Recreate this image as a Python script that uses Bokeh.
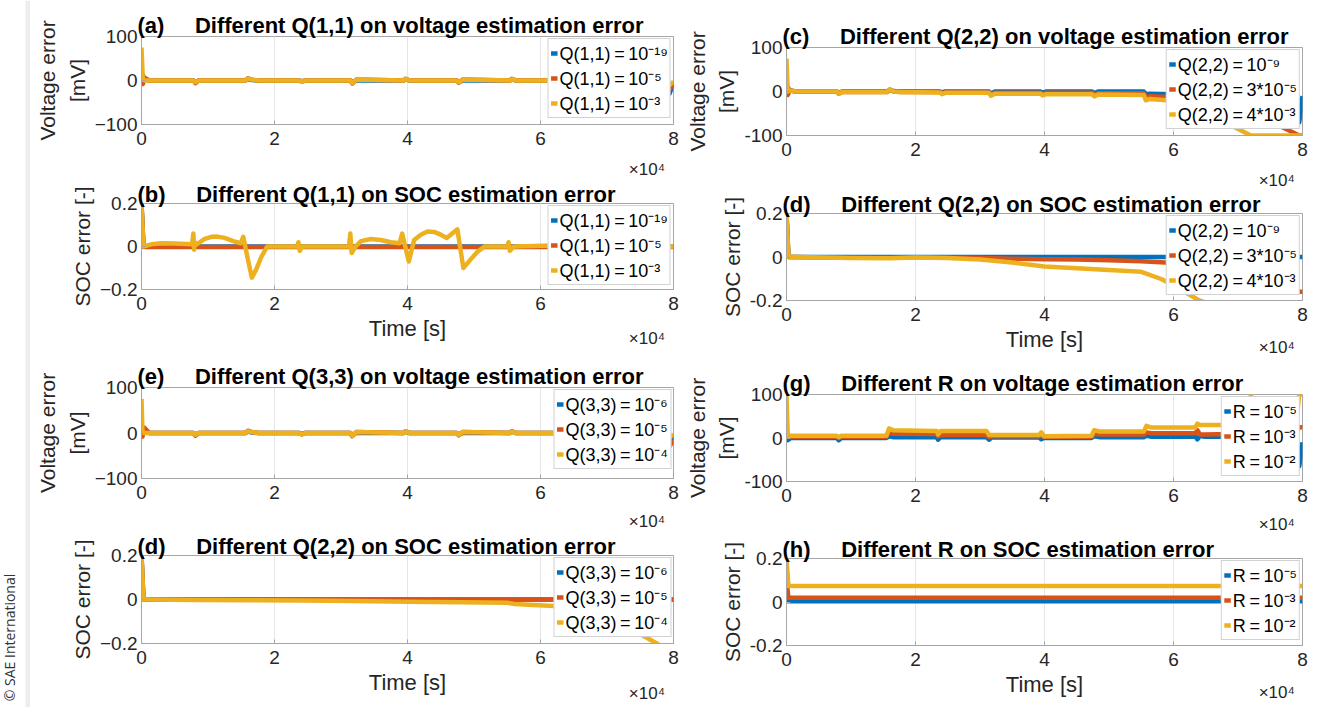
import math
from bokeh.plotting import figure
from bokeh.models import Range1d, FixedTicker, Legend, LegendItem, LinearAxis
from bokeh.layouts import row, column
from bokeh.embed import file_html
from bokeh.resources import INLINE
from bokeh.core.properties import value

# ---------------- data ----------------
x_ticks = [0, 20000, 40000, 60000, 80000]
x_tick_labels = ["0", "2", "4", "6", "8"]
x_scale_tick = [76000]
x_scale_label = ["\u00d710\u2074"]
volt_ticks = [-100, 0, 100]
volt_labels_left = ["\u2212100", "0", "100"]
volt_labels_right = ["-100", "0", "100"]
soc_ticks = [-0.2, 0, 0.2]
soc_labels_left = ["\u22120.2", "0", "0.2"]
soc_labels_right = ["-0.2", "0", "0.2"]

# (a) voltage error, different Q(1,1)
t_a = [0, 200, 500, 1200, 7800, 8100, 8600, 15600, 16000, 16600, 17600, 23800, 24100, 24600,
       31400, 31700, 32300, 39400, 39700, 40300, 47400, 47700, 48300, 55400, 55700, 56300,
       63400, 63700, 64300, 71400, 71700, 72300, 79000, 79400, 80000]
a_blue = [0, 12, 2, 0, 0, -3, 0, 0, 3, 1, 0, 0, -2, 0, 0, -4, 0, 0, 3, 0, 0, -3, 0, 0, 3, 0,
          0, 2, 0, 0, 2, 0, 0, -30, -5]
a_orange = [0, -8, 6, 0, 0, -6, 0, 0, 5, 2, 0, 0, -3, 0, 0, -7, 2, 0, 4, 0, 0, -5, 2, 0, 4, 0,
            0, 3, 0, 0, 2, 0, 0, -20, -8]
a_yellow = [75, 2, 0, 0, 0, -4, 0, 0, 4, 2, 0, 0, -3, 0, 0, -6, 2, 0, 4, 0, 0, -4, 2, 0, 3, 0,
            0, 2, 0, 0, 2, 0, 0, -10, -3]

# (b) SOC error, different Q(1,1)
t_b_flat = [0, 300, 80000]
b_blue = [0.2, 0.0, 0.0]
b_orange = [0.2, -0.002, -0.002]
t_b = [0, 300, 1500, 3000, 5000, 7600, 7800, 7900, 8000, 8300, 9500, 10500, 11400, 12500,
       13800, 14900, 15300, 16000, 16600, 17200, 18000, 18900, 23400, 23600, 23800, 24200,
       31200, 31400, 31600, 32200, 33000, 34500, 36000, 37500, 38800, 39200, 40200, 41000,
       42000, 43000, 44000, 45000, 45900, 47500, 48400, 49500, 50500, 51600, 55000, 55200,
       55400, 56000, 62000, 70000, 80000]
b_yellow = [0.19, 0.0, 0.01, 0.015, 0.014, 0.01, 0.06, -0.015, 0.02, 0.01, 0.035, 0.045,
            0.046, 0.04, 0.025, 0.015, 0.045, -0.06, -0.145, -0.11, -0.05, 0.0, 0.0, 0.02,
            -0.02, 0.0, 0.0, 0.06, -0.03, 0.0, 0.025, 0.035, 0.03, 0.02, 0.015, 0.06, -0.07,
            0.03, 0.055, 0.07, 0.068, 0.055, 0.04, 0.08, -0.1, -0.06, -0.025, 0.0, 0.0, 0.02,
            -0.02, 0.0, 0.005, 0.0, 0.0]

# (c) voltage error, different Q(2,2)
t_c = [0, 200, 500, 1500, 7800, 8100, 8600, 15600, 16000, 16600, 17600, 23800, 24100, 24600,
       31400, 31700, 32300, 39400, 39700, 40300, 47400, 47700, 48300, 55400, 55700, 56300,
       60000, 64000, 68000, 72000, 76000, 79500, 80000]
c_blue = [0, 10, 2, 0, 0, -4, 0, 0, 4, 1, 0, 0, -2, 0, 0, -5, 0, 0, -3, 0, 0, -4, 0, 0, -6, -5,
          -6, -10, -18, -28, -45, -70, -10]
c_orange = [0, -8, 3, 0, 0, -5, -1, -1, 4, 0, -1, -1, -4, -2, -2, -8, -3, -3, -6, -3, -3, -8,
            -4, -4, -14, -11, -13, -20, -32, -50, -75, -100, -100]
c_yellow = [75, 0, 2, 0, 0, -5, -1, -1, 5, 0, -1, -2, -6, -3, -3, -10, -5, -5, -9, -6, -6, -11,
            -7, -8, -20, -17, -21, -40, -70, -100, -100, -100, -100]

# (d) SOC error, different Q(2,2)
t_d = [0, 300, 1000, 10000, 16000, 20000, 25000, 30000, 35000, 40000, 45000, 50000, 55000,
       58000, 60000, 64000, 70000, 76000, 79500, 80000]
d_blue = [0.2, 0, 0, 0, 0, 0, 0, 0, 0, 0, 0, 0, 0, 0, 0, 0, 0, 0, 0, 0]
d_orange = [0.2, 0, 0, -0.003, -0.004, -0.002, -0.003, -0.005, -0.008, -0.01, -0.012, -0.015,
            -0.02, -0.024, -0.028, -0.05, -0.09, -0.13, -0.16, -0.16]
d_yellow = [0.2, 0, 0, -0.005, -0.006, -0.002, -0.005, -0.012, -0.025, -0.044, -0.052, -0.06,
            -0.068, -0.1, -0.13, -0.2, -0.26, -0.3, -0.32, -0.32]

# (e) voltage error, different Q(3,3)
t_e = [0, 150, 400, 1200, 7800, 8100, 8600, 15600, 16000, 16600, 17600, 23800, 24100, 24600,
       31400, 31700, 32300, 39400, 39700, 40300, 47400, 47700, 48300, 55400, 55700, 56300,
       63400, 63700, 64300, 71400, 71700, 72300, 79000, 79400, 80000]
e_blue = [0, 5, 1, 0, 0, -3, 0, 0, 3, 1, 0, 0, -2, 0, 0, -4, 0, 0, 3, 0, 0, -3, 0, 0, 3, 0,
          0, 2, 0, 0, 2, 0, 0, -20, -5]
e_orange = [0, -8, 12, 0, 0, -6, 0, 0, 5, 2, 0, 0, -3, 0, 0, -7, 2, 0, 4, 0, 0, -5, 2, 0, 4, 0,
            0, 3, 0, 0, 2, 0, 0, -30, -15]
e_yellow = [75, 2, 0, 0, 0, -4, 0, 0, 4, 2, 0, 0, -3, 0, 0, -6, 2, 0, 4, 0, 0, -4, 2, 0, 3, 0,
            0, 2, 0, 0, 2, 0, 0, -10, -3]

# (f) SOC error, different Q(3,3)
t_f = [0, 300, 1000, 8000, 16000, 24000, 32000, 40000, 48000, 55000, 56000, 62000, 66000,
       70000, 74000, 77500, 80000]
f_blue = [0.2, 0, 0, 0, 0, 0, 0, 0, 0, 0, 0, 0, 0, 0, 0, 0, 0]
f_orange = [0.2, 0, 0, 0, 0, 0, 0, 0, 0, 0, 0, 0, 0, 0, 0, 0, 0]
f_yellow = [0.2, 0, 0, -0.002, -0.003, -0.004, -0.007, -0.01, -0.013, -0.015, -0.02, -0.03,
            -0.06, -0.1, -0.14, -0.2, -0.25]

# (g) voltage error, different R
t_g = [0, 200, 700, 7800, 8100, 8500, 15500, 15900, 16500, 23300, 23500, 23900, 31000, 31400,
       31800, 39200, 39500, 39900, 47300, 47700, 48500, 55400, 55800, 56600, 63400, 63700,
       64100, 64800, 71000, 71500, 72000, 72500, 79000, 79500, 80000]
g_blue = [8, -5, 0, 0, -5, 0, 0, 4, 2, 2, -4, 2, 2, -4, 1, 1, -3, 0, 0, 4, 2, 2, 5, 3, 3, -3,
          5, 3, 3, 3, 3, 3, 3, -65, -10]
g_orange = [5, 3, 3, 3, 0, 3, 3, 13, 10, 9, 4, 7, 7, 2, 4, 4, 8, 3, 3, 10, 8, 8, 13, 11, 11,
            18, 8, 8, 10, 10, 10, 10, 12, 25, 25]
g_yellow = [100, 5, 5, 5, 2, 5, 5, 22, 18, 16, 8, 16, 16, 7, 7, 7, 13, 4, 5, 18, 15, 15, 28,
            24, 24, 33, 30, 30, 30, 30, 100, 32, 32, 100, 100]

# (h) SOC error, different R
t_h = [0, 300, 80000]
h_blue = [0.03, 0.003, 0.003]
h_orange = [0.1, 0.02, 0.02]
h_yellow = [0.2, 0.073, 0.073]

leg_q11 = ["Q(1,1)\u2009=\u200910\u207b\u00b9\u2079", "Q(1,1)\u2009=\u200910\u207b\u2075",
           "Q(1,1)\u2009=\u200910\u207b\u00b3"]
leg_q22 = ["Q(2,2)\u2009=\u200910\u207b\u2079", "Q(2,2)\u2009=\u20093*10\u207b\u2075",
           "Q(2,2)\u2009=\u20094*10\u207b\u00b3"]
leg_q33 = ["Q(3,3)\u2009=\u200910\u207b\u2076", "Q(3,3)\u2009=\u200910\u207b\u2075",
           "Q(3,3)\u2009=\u200910\u207b\u2074"]
leg_r = ["R\u2009=\u200910\u207b\u2075", "R\u2009=\u200910\u207b\u00b3", "R\u2009=\u200910\u207b\u00b2"]

# ---------------- styling ----------------
COLORS = ["#0072BD", "#D95319", "#EDB120"]
FONT = "Liberation Sans"
FRAME = "#a6a6a6"
TXT = "#262626"
NB = "\u00a0"


def panel(w, h, bl, br, bt, bb, tag, title, kind, side, series, labels, xlabel,
          title_standoff, scale_standoff):
    if kind == "v":
        ylo, yhi = -100, 100
        yt = volt_ticks
        yl = volt_labels_left if side == "L" else volt_labels_right
        ylab = "Voltage error\n[mV]"
    else:
        ylo, yhi = -0.2, 0.2
        yt = soc_ticks
        yl = soc_labels_left if side == "L" else soc_labels_right
        ylab = "SOC error [-]"
    p = figure(width=w, height=h, output_backend="svg", toolbar_location=None,
               x_range=Range1d(0, 80000), y_range=Range1d(ylo, yhi),
               min_border_left=bl, min_border_right=br, min_border_top=bt,
               min_border_bottom=bb,
               title=tag + NB * 5 + title)
    p.background_fill_color = "white"
    p.border_fill_color = "white"
    p.outline_line_color = FRAME
    p.outline_line_width = 1

    p.title.align = "left"
    p.title.offset = -4
    p.title.standoff = title_standoff
    p.title.text_font = FONT
    p.title.text_font_size = "22px"
    p.title.text_font_style = "bold"
    p.title.text_color = "black"
    p.title.text_line_height = 0.85

    rs = []
    for (tt, yy), c in zip(series, COLORS):
        r = p.line(tt, yy, line_color=c, line_width=4.5, line_join="round")
        rs.append(r)

    p.xaxis.ticker = FixedTicker(ticks=x_ticks)
    p.xaxis.major_label_overrides = dict(zip(x_ticks, x_tick_labels))
    p.yaxis.ticker = FixedTicker(ticks=yt)
    p.yaxis.major_label_overrides = dict(zip(yt, yl))
    for ax in (p.xaxis[0], p.yaxis[0]):
        ax.axis_line_color = FRAME
        ax.major_tick_line_color = FRAME
        ax.major_tick_in = 4
        ax.major_tick_out = 0
        ax.minor_tick_line_color = None
        ax.major_label_text_font = FONT
        ax.major_label_text_font_size = "19px"
        ax.major_label_text_color = TXT
        ax.axis_label_text_font = FONT
        ax.axis_label_text_font_size = "22px"
        ax.axis_label_text_font_style = "normal"
        ax.axis_label_text_color = TXT
    p.xaxis.major_label_standoff = 7
    p.yaxis.major_label_standoff = 4
    p.yaxis.axis_label = ylab
    p.yaxis.axis_label_text_font_size = "21px"
    p.yaxis.axis_label_standoff = 3
    p.yaxis.axis_label_text_line_height = 1.3
    if xlabel:
        p.xaxis.axis_label = "Time [s]"
        p.xaxis.axis_label_standoff = 3
    p.xgrid.grid_line_color = "#e6e6e6"
    p.ygrid.visible = False

    # exponent of the time axis, MATLAB style, as a second bottom axis
    scale_axis = LinearAxis(ticker=FixedTicker(ticks=x_scale_tick),
                            major_label_overrides=dict(zip(x_scale_tick, x_scale_label)),
                            axis_line_color=None, major_tick_line_color=None,
                            minor_tick_line_color=None, major_tick_in=0, major_tick_out=0,
                            major_label_standoff=scale_standoff,
                            major_label_text_font=FONT, major_label_text_font_size="17px",
                            major_label_text_color=TXT, major_label_text_line_height=0.85)
    p.add_layout(scale_axis, "below")

    items = [LegendItem(label=value(l), renderers=[r]) for l, r in zip(labels, rs)]
    leg = Legend(items=items, location="top_right", margin=2, padding=2, spacing=1,
                 label_height=24, glyph_height=24, glyph_width=7, label_standoff=2,
                 label_text_font=FONT, label_text_font_size="18px",
                 label_text_color="black", border_line_color=FRAME,
                 background_fill_color="white", background_fill_alpha=1)
    p.add_layout(leg)
    return p


LW, RW = 652, 641
# left column: heights 182 + 174 + 178 + 173 = 707
pa = panel(LW, 182, 111, 9, 36, 58, "(a)", "Different Q(1,1) on voltage estimation error", "v", "L",
           [(t_a, a_blue), (t_a, a_orange), (t_a, a_yellow)], leg_q11, False, -2, 12)
pb = panel(LW, 174, 111, 9, 20, 67, "(b)", "Different Q(1,1) on SOC estimation error", "s", "L",
           [(t_b_flat, b_blue), (t_b_flat, b_orange), (t_b, b_yellow)], leg_q11, True, -6, -15)
pe = panel(LW, 178, 111, 9, 31, 56, "(e)", "Different Q(3,3) on voltage estimation error", "v", "L",
           [(t_e, e_blue), (t_e, e_orange), (t_e, e_yellow)], leg_q33, False, -2, 10)
pf = panel(LW, 173, 111, 9, 19, 64, "(d)", "Different Q(2,2) on SOC estimation error", "s", "L",
           [(t_f, f_blue), (t_f, f_orange), (t_f, f_yellow)], leg_q33, True, -6, -14)

# right column: heights 192 + 171 + 174 + 170 = 707
pc = panel(RW, 192, 104, 21, 47, 57, "(c)", "Different Q(2,2) on voltage estimation error", "v", "R",
           [(t_c, c_blue), (t_c, c_orange), (t_c, c_yellow)], leg_q22, False, -2, 12)
pd = panel(RW, 171, 104, 21, 21, 63, "(d)", "Different Q(2,2) on SOC estimation error", "s", "R",
           [(t_d, d_blue), (t_d, d_orange), (t_d, d_yellow)], leg_q22, True, -6, -17)
pg = panel(RW, 174, 104, 21, 31, 56, "(g)", "Different R on voltage estimation error", "v", "R",
           [(t_g, g_blue), (t_g, g_orange), (t_g, g_yellow)], leg_r, False, -2, 10)
ph = panel(RW, 170, 104, 21, 19, 62, "(h)", "Different R on SOC estimation error", "s", "R",
           [(t_h, h_blue), (t_h, h_orange), (t_h, h_yellow)], leg_r, True, -6, -17)

# left strip with copyright note
strip = figure(width=30, height=707, output_backend="svg", toolbar_location=None,
               x_range=Range1d(0, 30), y_range=Range1d(0, 707), x_axis_type=None,
               y_axis_type=None, min_border=0)
strip.outline_line_color = None
strip.grid.visible = False
strip.background_fill_color = "white"
strip.border_fill_color = "white"
strip.quad(left=[25], right=[30], bottom=[0], top=[707], fill_color="#ededed", line_color=None)
strip.text(x=[9], y=[70], text=["\u00a9 SAE International"], angle=math.pi / 2,
           text_font=value("Open Sans"), text_font_size="14px", text_color="#333333",
           text_align="center", text_baseline="middle")

layout = row(strip, column(pa, pb, pe, pf), column(pc, pd, pg, ph))
open("out.html", "w").write(file_html(layout, INLINE))
